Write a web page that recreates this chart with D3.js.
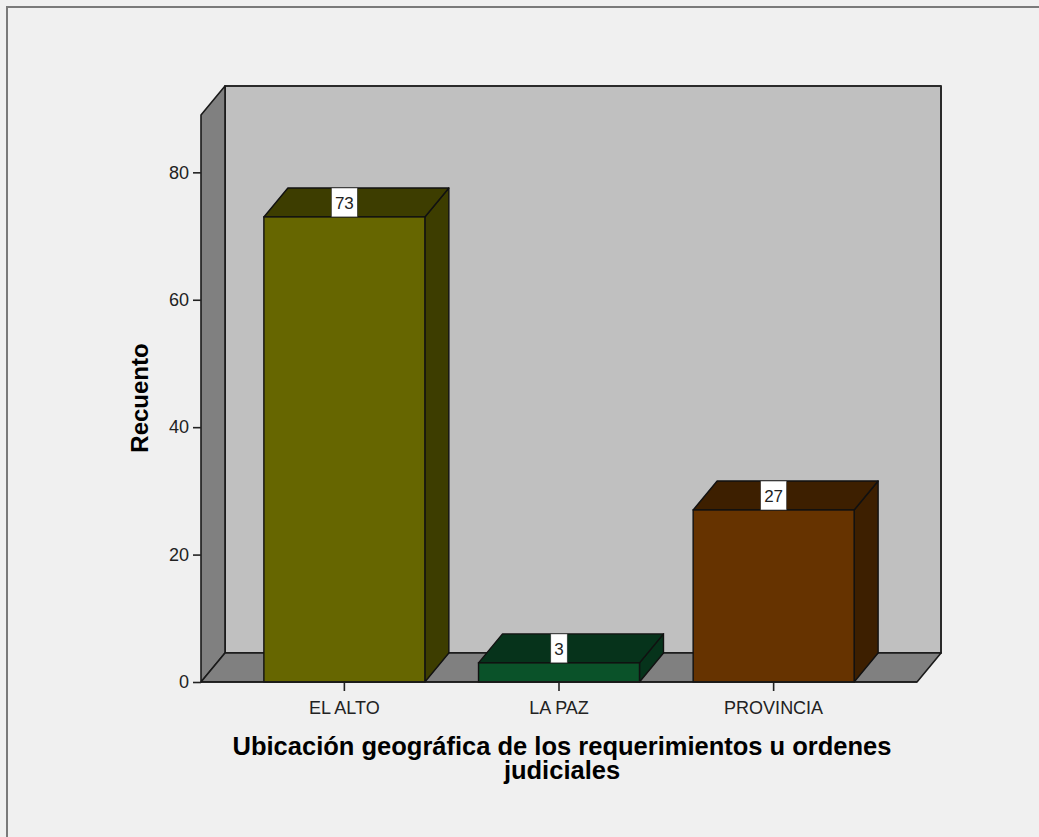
<!DOCTYPE html>
<meta charset="utf-8">
<script src="https://d3js.org/d3.v7.min.js"></script>
<style>
  body { margin: 0; background: #f0f0f0; }
  svg { display: block; font-family: "Liberation Sans", Arial, sans-serif; }
</style>
<div id="chart"></div>
<script>
    // data
    var categories = ["EL ALTO", "LA PAZ", "PROVINCIA"];
    var counts = [73, 3, 27];
    var yTicks = [0, 20, 40, 60, 80];
    var yTitle = "Recuento";
    var xTitle = ["Ubicación geográfica de los requerimientos u ordenes", "judiciales"];

    var frontColours = ["#666600", "#0a5229", "#663300"];
    var darkColours = ["#3d3d00", "#06331b", "#3d1f00"];

    var W = 1039, H = 837;
    var dx = 24, dy = 29;   // depth of the 3D effect

    var svg = d3.select("#chart").append("svg")
        .attr("width", W)
        .attr("height", H);

    // outer frame
    svg.append("rect")
        .attr("x", 7).attr("y", 7)
        .attr("width", W + 20).attr("height", H + 20)
        .attr("fill", "#f0f0f0")
        .attr("stroke", "#7a7a7a")
        .attr("stroke-width", 2);

    var x = d3.scaleBand()
        .domain(categories)
        .range([201, 917])
        .paddingInner(0.25)
        .paddingOuter(0.293);

    var y = d3.scaleLinear()
        .domain([0, 89])
        .range([682, 115]);

    var x0 = x.range()[0], x1 = x.range()[1];
    var yb = y(0), yt = y(y.domain()[1]);

    function pts(a) { return a.map(function(p) { return p.join(","); }).join(" "); }

    // back wall
    svg.append("polygon")
        .attr("points", pts([[x0 + dx, yt - dy], [x1 + dx, yt - dy], [x1 + dx, yb - dy], [x0 + dx, yb - dy]]))
        .attr("fill", "#c0c0c0")
        .attr("stroke", "#2a2a2a")
        .attr("stroke-width", 2)
        .attr("stroke-linejoin", "round");

    // left wall
    svg.append("polygon")
        .attr("points", pts([[x0, yb], [x0, yt], [x0 + dx, yt - dy], [x0 + dx, yb - dy]]))
        .attr("fill", "#808080")
        .attr("stroke", "#1a1a1a")
        .attr("stroke-width", 1.6)
        .attr("stroke-linejoin", "round");

    // floor
    svg.append("polygon")
        .attr("points", pts([[x0, yb], [x1, yb], [x1 + dx, yb - dy], [x0 + dx, yb - dy]]))
        .attr("fill", "#808080")
        .attr("stroke", "#1a1a1a")
        .attr("stroke-width", 1.6)
        .attr("stroke-linejoin", "round");

    // bars
    var bars = svg.selectAll(".bar")
        .data(categories)
        .enter().append("g")
        .attr("class", "bar");

    bars.each(function(c, i) {
        var g = d3.select(this);
        var l = x(c), r = x(c) + x.bandwidth(), top = y(counts[i]);
        // side
        g.append("polygon")
            .attr("points", pts([[r, yb], [r, top], [r + dx, top - dy], [r + dx, yb - dy]]))
            .attr("fill", darkColours[i])
            .attr("stroke", "#111").attr("stroke-width", 1.4).attr("stroke-linejoin", "round");
        // top
        g.append("polygon")
            .attr("points", pts([[l, top], [r, top], [r + dx, top - dy], [l + dx, top - dy]]))
            .attr("fill", darkColours[i])
            .attr("stroke", "#111").attr("stroke-width", 1.4).attr("stroke-linejoin", "round");
        // front
        g.append("rect")
            .attr("x", l).attr("y", top)
            .attr("width", x.bandwidth()).attr("height", yb - top)
            .attr("fill", frontColours[i])
            .attr("stroke", "#111").attr("stroke-width", 1.4);

        // value label
        var cx = l + x.bandwidth() / 2;
        var t = g.append("text")
            .attr("x", cx)
            .attr("y", top - dy / 2)
            .attr("dy", "0.36em")
            .attr("text-anchor", "middle")
            .attr("font-size", "17px")
            .attr("fill", "#222")
            .text(counts[i]);
        var w = t.node().getComputedTextLength() + 7;
        g.insert("rect", "text")
            .attr("x", cx - w / 2).attr("y", top - dy)
            .attr("width", w).attr("height", dy)
            .attr("fill", "#fff")
            .attr("stroke", "#333").attr("stroke-width", 0.6);
    });

    // y axis
    var yAxis = svg.append("g")
        .attr("transform", "translate(" + x0 + ",0)")
        .call(d3.axisLeft(y).tickValues(yTicks).tickSize(8).tickPadding(4));
    yAxis.select(".domain").remove();
    yAxis.selectAll("line").attr("stroke", "#222").attr("stroke-width", 1.6);
    yAxis.selectAll("text").attr("font-size", "18px").attr("fill", "#222")
        .attr("font-family", "Liberation Sans, Arial, sans-serif");

    // x axis
    var xAxis = svg.append("g")
        .attr("transform", "translate(0," + yb + ")")
        .call(d3.axisBottom(x).tickSize(9).tickPadding(10));
    xAxis.select(".domain").remove();
    xAxis.selectAll("line").attr("stroke", "#222").attr("stroke-width", 1.6);
    xAxis.selectAll("text").attr("font-size", "18px").attr("fill", "#222")
        .attr("font-family", "Liberation Sans, Arial, sans-serif");

    // front edge of floor
    svg.append("line")
        .attr("x1", x0).attr("x2", x1)
        .attr("y1", yb).attr("y2", yb)
        .attr("stroke", "#1a1a1a").attr("stroke-width", 1.6);

    // titles
    svg.append("text")
        .attr("transform", "translate(148,398) rotate(-90)")
        .attr("text-anchor", "middle")
        .attr("font-size", "24px")
        .attr("font-weight", "bold")
        .attr("fill", "#000")
        .text(yTitle);

    svg.selectAll(".xtitle")
        .data(xTitle)
        .enter().append("text")
        .attr("class", "xtitle")
        .attr("x", 562)
        .attr("y", function(d, i) { return 755 + i * 24; })
        .attr("text-anchor", "middle")
        .attr("font-size", "25.5px")
        .attr("font-weight", "bold")
        .attr("fill", "#000")
        .text(function(d) { return d; });
</script>
